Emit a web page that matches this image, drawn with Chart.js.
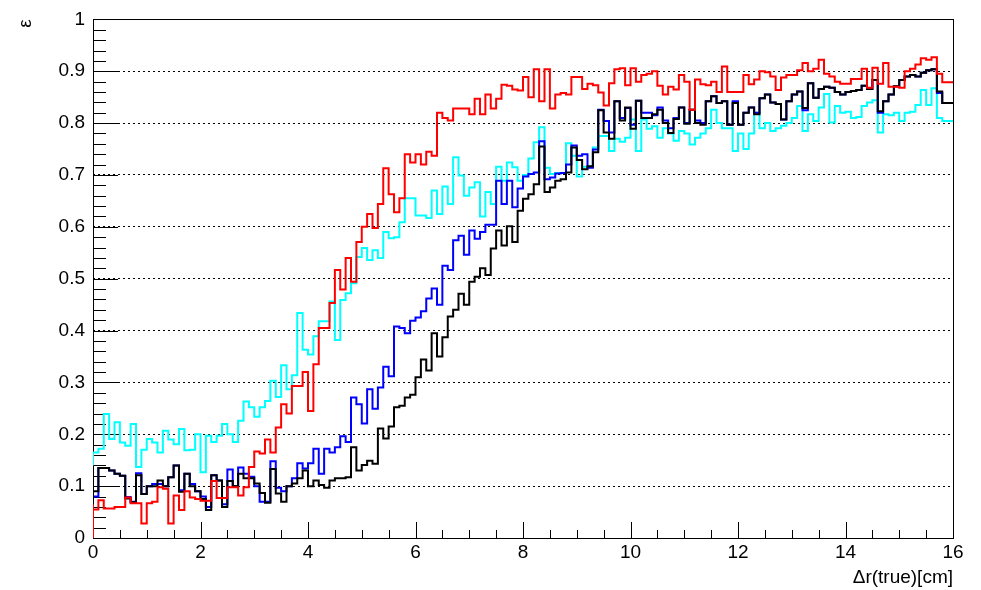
<!DOCTYPE html>
<html>
<head>
<meta charset="utf-8">
<script src="https://cdn.jsdelivr.net/npm/chart.js@4.4.1/dist/chart.umd.min.js"></script>
<style>
  html, body { margin: 0; padding: 0; background: #fff; }
  #wrap { width: 981px; height: 590px; position: relative; }
</style>
</head>
<body>
<div id="wrap"><canvas id="c"></canvas></div>
<script>
// histogramme 160 bins de 0.1 cm, efficacité vs Δr(true)
const X_MIN = 0, X_MAX = 16, BIN_WIDTH = 0.1;
const xTicks = [0, 2, 4, 6, 8, 10, 12, 14, 16];
const yTicks = [0, 0.1, 0.2, 0.3, 0.4, 0.5, 0.6, 0.7, 0.8, 0.9, 1];

const effRed = [
  0.065, 0.055, 0.073, 0.057, 0.057, 0.06, 0.06, 0.078, 0.067, 0.067,
  0.028, 0.067, 0.07, 0.098, 0.095, 0.028, 0.082, 0.054, 0.09, 0.078,
  0.075, 0.072, 0.072, 0.11, 0.077, 0.077, 0.098, 0.098, 0.082, 0.098,
  0.137, 0.167, 0.163, 0.19, 0.165, 0.213, 0.258, 0.24, 0.293, 0.293,
  0.32, 0.245, 0.335, 0.405, 0.405, 0.453, 0.517, 0.479, 0.54, 0.494,
  0.571, 0.6, 0.625, 0.598, 0.644, 0.713, 0.663, 0.628, 0.655, 0.74,
  0.724, 0.74, 0.72, 0.745, 0.737, 0.82, 0.81, 0.805, 0.828, 0.828,
  0.828, 0.817, 0.847, 0.817, 0.855, 0.828, 0.847, 0.874, 0.872, 0.865,
  0.863, 0.889, 0.85, 0.904, 0.842, 0.904, 0.828, 0.855, 0.858, 0.855,
  0.889, 0.889, 0.866, 0.876, 0.873, 0.859, 0.834, 0.877, 0.904, 0.906,
  0.873, 0.906, 0.88, 0.893, 0.895, 0.9, 0.872, 0.855, 0.87, 0.865,
  0.893, 0.88, 0.826, 0.884, 0.875, 0.873, 0.88, 0.86, 0.909, 0.86,
  0.86, 0.86, 0.893, 0.875, 0.884, 0.9, 0.898, 0.89, 0.864, 0.888,
  0.893, 0.893, 0.902, 0.916, 0.9, 0.905, 0.922, 0.895, 0.89, 0.88,
  0.876, 0.876, 0.885, 0.885, 0.905, 0.868, 0.907, 0.876, 0.916, 0.87,
  0.87, 0.868, 0.9, 0.905, 0.913, 0.925, 0.922, 0.927, 0.895, 0.879
];
const effCyan = [
  0.162, 0.165, 0.172, 0.239, 0.191, 0.223, 0.184, 0.178, 0.22, 0.137,
  0.17, 0.191, 0.184, 0.165, 0.207, 0.19, 0.181, 0.21, 0.169, 0.17,
  0.2, 0.127, 0.197, 0.185, 0.197, 0.22, 0.2, 0.185, 0.226, 0.263,
  0.252, 0.234, 0.252, 0.264, 0.303, 0.272, 0.333, 0.287, 0.314, 0.434,
  0.363, 0.354, 0.389, 0.418, 0.418, 0.456, 0.382, 0.459, 0.472, 0.491,
  0.542, 0.559, 0.536, 0.555, 0.54, 0.59, 0.578, 0.58, 0.609, 0.655,
  0.655, 0.622, 0.622, 0.617, 0.67, 0.625, 0.678, 0.644, 0.734, 0.699,
  0.66, 0.676, 0.686, 0.62, 0.667, 0.644, 0.716, 0.689, 0.724, 0.715,
  0.689, 0.7, 0.732, 0.763, 0.792, 0.714, 0.702, 0.704, 0.704, 0.761,
  0.737, 0.697, 0.716, 0.716, 0.753, 0.775, 0.775, 0.746, 0.77, 0.764,
  0.772, 0.807, 0.746, 0.807, 0.789, 0.794, 0.772, 0.79, 0.78, 0.766,
  0.785, 0.78, 0.759, 0.772, 0.78, 0.79, 0.826, 0.8, 0.79, 0.79,
  0.746, 0.78, 0.75, 0.78, 0.82, 0.79, 0.8, 0.785, 0.79, 0.795,
  0.8, 0.81, 0.833, 0.785, 0.817, 0.804, 0.83, 0.856, 0.801, 0.833,
  0.82, 0.822, 0.81, 0.812, 0.833, 0.84, 0.844, 0.782, 0.817, 0.815,
  0.82, 0.804, 0.82, 0.822, 0.835, 0.864, 0.835, 0.867, 0.81, 0.804
];
const effBlue = [
  0.14, 0.08, 0.135, 0.135, 0.13, 0.124, 0.12, 0.079, 0.07, 0.125,
  0.085, 0.1, 0.104, 0.104, 0.1, 0.117, 0.14, 0.092, 0.124, 0.104,
  0.09, 0.08, 0.06, 0.121, 0.111, 0.065, 0.132, 0.1, 0.136, 0.124,
  0.118, 0.1, 0.07, 0.07, 0.148, 0.097, 0.09, 0.1, 0.115, 0.144,
  0.134, 0.144, 0.172, 0.124, 0.172, 0.165, 0.175, 0.196, 0.185, 0.271,
  0.258, 0.221, 0.287, 0.249, 0.29, 0.33, 0.312, 0.408, 0.405, 0.395,
  0.419, 0.425, 0.437, 0.462, 0.481, 0.45, 0.525, 0.517, 0.574, 0.583,
  0.546, 0.593, 0.577, 0.59, 0.604, 0.604, 0.689, 0.644, 0.689, 0.638,
  0.674, 0.697, 0.702, 0.705, 0.765, 0.692, 0.695, 0.703, 0.704, 0.72,
  0.757, 0.737, 0.74, 0.714, 0.749, 0.826, 0.804, 0.782, 0.842, 0.81,
  0.829, 0.797, 0.843, 0.82, 0.82, 0.815, 0.83, 0.805, 0.79, 0.81,
  0.83, 0.8, 0.826, 0.805, 0.8, 0.842, 0.852, 0.839, 0.842, 0.797,
  0.842, 0.797, 0.82, 0.83, 0.82, 0.848, 0.855, 0.84, 0.837, 0.807,
  0.842, 0.855, 0.861, 0.825, 0.877, 0.849, 0.866, 0.87, 0.868, 0.86,
  0.855, 0.86, 0.862, 0.864, 0.872, 0.866, 0.883, 0.82, 0.842, 0.855,
  0.871, 0.883, 0.89, 0.893, 0.89, 0.897, 0.902, 0.904, 0.858, 0.839
];
const effBlack = [
  0.14, 0.09, 0.135, 0.135, 0.13, 0.124, 0.12, 0.076, 0.069, 0.121,
  0.085, 0.1, 0.1, 0.111, 0.1, 0.117, 0.14, 0.089, 0.124, 0.1,
  0.09, 0.075, 0.054, 0.121, 0.111, 0.06, 0.11, 0.1, 0.124, 0.115,
  0.115, 0.105, 0.087, 0.068, 0.133, 0.086, 0.07, 0.1, 0.105, 0.115,
  0.13, 0.1, 0.111, 0.102, 0.097, 0.111, 0.115, 0.115, 0.117, 0.175,
  0.13, 0.141, 0.149, 0.143, 0.211, 0.192, 0.215, 0.252, 0.255, 0.271,
  0.276, 0.31, 0.344, 0.323, 0.395, 0.35, 0.387, 0.427, 0.44, 0.471,
  0.45, 0.494, 0.504, 0.52, 0.507, 0.558, 0.593, 0.564, 0.601, 0.571,
  0.631, 0.654, 0.663, 0.682, 0.755, 0.667, 0.676, 0.689, 0.692, 0.705,
  0.753, 0.729, 0.711, 0.717, 0.744, 0.825, 0.782, 0.77, 0.842, 0.805,
  0.83, 0.789, 0.843, 0.81, 0.81, 0.817, 0.826, 0.8, 0.781, 0.808,
  0.83, 0.799, 0.826, 0.8, 0.797, 0.842, 0.852, 0.839, 0.842, 0.797,
  0.839, 0.797, 0.82, 0.83, 0.817, 0.848, 0.855, 0.84, 0.837, 0.807,
  0.842, 0.855, 0.861, 0.829, 0.877, 0.849, 0.866, 0.87, 0.868, 0.86,
  0.855, 0.86, 0.862, 0.864, 0.872, 0.866, 0.883, 0.823, 0.842, 0.855,
  0.871, 0.883, 0.89, 0.893, 0.89, 0.897, 0.902, 0.904, 0.861, 0.839
];

// contour façon ROOT : part de 0 au bord gauche, une marche par bin
function histPoints(vals) {
  const pts = [{ x: X_MIN, y: 0 }];
  vals.forEach((v, i) => pts.push({ x: X_MIN + i * BIN_WIDTH, y: v }));
  pts.push({ x: X_MAX, y: vals[vals.length - 1] });
  return pts;
}

function serie(vals, couleur) {
  return {
    data: histPoints(vals),
    borderColor: couleur,
    borderWidth: 2,
    stepped: "after",
    pointRadius: 0,
    fill: false,
    tension: 0
  };
}

const police = { family: "'Liberation Sans', Arial, sans-serif", size: 19 };

// cadre + graduations vers l'intérieur (style ROOT)
const cadreRoot = {
  id: "cadreRoot",
  beforeDatasetsDraw(chart) {
    const { ctx, chartArea: a, scales: { x, y } } = chart;
    ctx.save();
    ctx.strokeStyle = "#000";
    ctx.lineWidth = 1;
    ctx.beginPath();
    for (let k = 0; k <= 50; k++) {
      const py = Math.round(y.getPixelForValue(k * 0.02)) + 0.5;
      ctx.moveTo(a.left, py);
      ctx.lineTo(a.left + (k % 5 === 0 ? 25 : 13), py);
    }
    for (let k = 0; k <= 32; k++) {
      const px = Math.round(x.getPixelForValue(k * 0.5)) + 0.5;
      ctx.moveTo(px, a.bottom);
      ctx.lineTo(px, a.bottom - (k % 4 === 0 ? 16 : 8));
    }
    ctx.stroke();
    ctx.strokeRect(Math.round(a.left) + 0.5, Math.round(a.top) + 0.5,
      Math.round(a.right - a.left), Math.round(a.bottom - a.top));
    ctx.restore();
  }
};

new Chart(document.getElementById("c"), {
  type: "line",
  data: {
    datasets: [
      serie(effRed, "#ff0000"),
      serie(effBlack, "#000000"),
      serie(effBlue, "#0000ff"),
      serie(effCyan, "#00ffff")
    ]
  },
  options: {
    responsive: true,
    maintainAspectRatio: false,
    animation: false,
    layout: { padding: { top: 16, right: 28, bottom: 0, left: 0 } },
    plugins: {
      legend: { display: false },
      tooltip: { enabled: false }
    },
    scales: {
      x: {
        type: "linear",
        min: X_MIN,
        max: X_MAX,
        afterBuildTicks: s => { s.ticks = xTicks.map(v => ({ value: v })); },
        afterFit: s => { s.height = 52; },
        grid: { display: false, drawTicks: false },
        border: { display: false },
        ticks: { color: "#000", font: police, padding: 3, maxRotation: 0, callback: v => String(v) },
        title: {
          display: true,
          text: "Δr(true)[cm]",
          align: "end",
          color: "#000",
          font: police,
          padding: { top: 0, bottom: 1 }
        }
      },
      y: {
        min: 0,
        max: 1,
        afterBuildTicks: s => { s.ticks = yTicks.map(v => ({ value: v })); },
        afterFit: s => { s.width = 93; },
        grid: {
          drawTicks: false,
          color: c => (c.tick && c.tick.value > 0 && c.tick.value < 1) ? "#000" : "rgba(0,0,0,0)",
          lineWidth: 1
        },
        border: { display: false, dash: [2, 3] },
        ticks: { color: "#000", font: police, padding: 8, callback: v => String(+v.toFixed(1)) },
        title: {
          display: true,
          text: "ε",
          align: "end",
          color: "#000",
          font: police,
          padding: { top: 14, bottom: 0 }
        }
      }
    }
  },
  plugins: [cadreRoot]
});
</script>
</body>
</html>
